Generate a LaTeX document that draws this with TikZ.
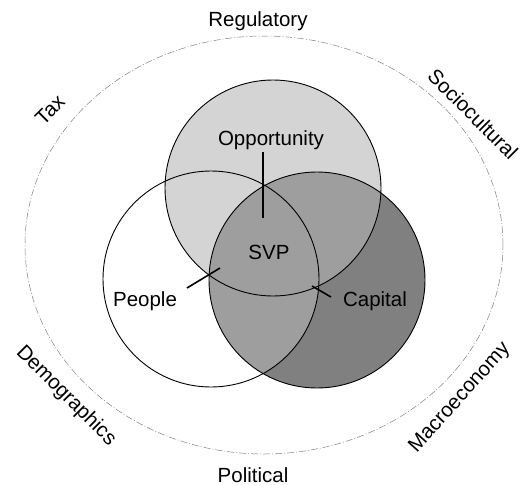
\documentclass[tikz,border=0pt]{standalone}
\usepackage{fontspec}
\setmainfont{Liberation Sans}
\definecolor{oppgray}{gray}{0.83}
\definecolor{capgray}{gray}{0.50}
\definecolor{midgray}{gray}{0.62}
\tikzset{
ring/.style={circle, draw, line width=0.9pt, minimum size=216pt, inner sep=0pt},
env/.style={draw=gray, line width=0.5pt, dash pattern=on 7pt off 2pt on 1pt off 2pt},
lbl/.style={font=\fontsize{20.5}{24}\selectfont, inner sep=0pt, anchor=base},
side/.style={font=\fontsize{20.5}{24}\selectfont, inner sep=0pt},
tickline/.style={line width=1.6pt},
}

\begin{document}
\begin{tikzpicture}[x=1pt,y=-1pt]
\useasboundingbox (0,0) rectangle (520,485);
\draw[env] (264,245) ellipse [x radius=239pt, y radius=209pt];
\coordinate (oppc) at (273,188);
\coordinate (pplc) at (211,279);
\coordinate (capc) at (317,280);
% shading of the three sets
\fill[oppgray] (oppc) circle[radius=108pt];
\fill[capgray] (capc) circle[radius=108pt];
\begin{scope}
\clip (capc) circle[radius=108pt];
\fill[midgray] (oppc) circle[radius=108pt];
\fill[midgray] (pplc) circle[radius=108pt];
\end{scope}
\node[ring] (opp) at (oppc) {};
\node[ring] (ppl) at (pplc) {};
\node[ring] (cap) at (capc) {};
% labels
\node[lbl] (opplabel) at (271,145) {Opportunity};
\node[lbl] (svp) at (269,259) {SVP};
\node[lbl] (people) at (145,306) {People};
\node[lbl] (capital) at (375,306) {Capital};
\coordinate (oppa) at (263,152);
\coordinate (oppb) at (263,218);
\coordinate (ppla) at (187,288);
\coordinate (pplb) at (220,268);
\coordinate (capa) at (312,286);
\coordinate (capb) at (331,297);
\draw[tickline] (oppa) -- (oppb);
\draw[tickline] (ppla) -- (pplb);
\draw[tickline] (capa) -- (capb);
% environment
\node[lbl] (reg) at (258,26) {Regulatory};
\node[lbl] (pol) at (253,482) {Political};
\node[side, rotate=45] (tax) at (50,110) {Tax};
\node[side, rotate=-45] (soc) at (473,114) {Sociocultural};
\node[side, rotate=-45] (dem) at (66,396) {Demographics};
\node[side, rotate=48] (mac) at (460,398) {Macroeconomy};
\end{tikzpicture}
\end{document}
